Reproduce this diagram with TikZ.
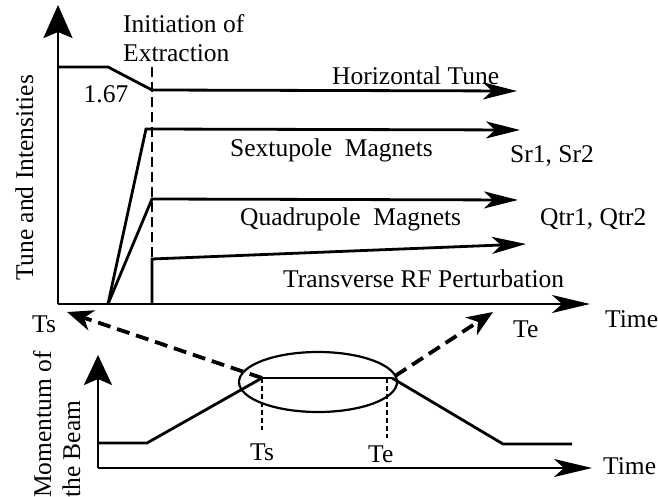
\documentclass[tikz,border=0pt]{standalone}
\usepackage{fontspec}
\setmainfont{Liberation Serif}
\usetikzlibrary{arrows.meta}

\begin{document}
\begin{tikzpicture}[x=1pt,y=-1pt,
    every node/.style={font=\fontsize{25.5}{29}\selectfont,inner sep=0pt},
    axis/.style={line width=2.4pt},
    trend/.style={line width=2.8pt,-{Stealth[length=34pt,width=17pt,inset=9pt]}},
    zoomarr/.style={line width=3.8pt,dash pattern=on 13pt off 7pt,-{Stealth[length=26pt,width=21pt,inset=8pt]}},
    guide/.style={line width=1.5pt,dash pattern=on 5pt off 3pt}]
    \useasboundingbox (0,0) rectangle (658,497);

    % upper chart
    \coordinate (o1) at (58,304);
    \coordinate (ext) at (152,67);
    \draw [axis,-{Stealth[length=33pt,width=29pt,inset=6pt]}] (o1)--(58,5);
    \draw [axis,-{Stealth[length=38pt,width=18pt,inset=10pt]}] (o1)--(590,304);
    \draw [line width=2pt,dash pattern=on 10pt off 5pt] (ext)--(152,304);
    \draw [trend] (58,67)--(108,67)--(152,90)--(517,91);
    \draw [trend] (108,304)--(146,129)--(520,130);
    \draw [trend] (108,304)--(152,199)--(518,200);
    \draw [trend] (152,304)--(152,259)--(526,244);
    \node [anchor=north west,align=left] (init) at (123,14) {Initiation of\\Extraction};
    \node [anchor=base] (tune0) at (106,103) {1.67};
    \node [anchor=base west] (htune) at (332,85) {Horizontal Tune};
    \node [anchor=base west] (sext) at (230,157) {Sextupole\ \ Magnets};
    \node [anchor=base west] (sr) at (510,163) {Sr1, Sr2};
    \node [anchor=base west] (quad) at (240,225) {Quadrupole\ \ Magnets};
    \node [anchor=base west] (qtr) at (540,225) {Qtr1, Qtr2};
    \node [anchor=base west] (rf) at (283,287) {Transverse RF Perturbation};
    \node [anchor=base west] (time1) at (605,327) {Time};
    \node [anchor=base west] (ts1) at (32,332) {Ts};
    \node [anchor=base west] (te1) at (513,337) {Te};
    \node [rotate=90,anchor=base] (ylab1) at (33,178) {Tune and Intensities};

    % lower chart
    \coordinate (o2) at (98,468);
    \coordinate (ts) at (262,378);
    \coordinate (te) at (392,378);
    \draw [axis,-{Stealth[length=30pt,width=28pt,inset=6pt]}] (o2)--(98,355);
    \draw [axis,-{Stealth[length=38pt,width=18pt,inset=10pt]}] (o2)--(592,468);
    \draw [line width=2.8pt] (98,443)--(147,443)--(ts);
    \draw [line width=1.5pt] (ts)--(te);
    \draw [line width=2.8pt] (te)--(503,444)--(572,444);
    \draw [guide] (ts)--(262,430);
    \draw [guide] (387,378)--(387,438);
    \draw [line width=2.2pt] (318,382) ellipse [x radius=79pt,y radius=30pt];
    \draw [zoomarr] (ts)--(67,312);
    \draw [zoomarr,shorten <=4pt] (te)--(493,312);
    \node [anchor=base west] (ts2) at (250,460) {Ts};
    \node [anchor=base west] (te2) at (368,462) {Te};
    \node [anchor=base west] (time2) at (603,474) {Time};
    \node [rotate=90,anchor=north west,align=left] (ylab2) at (33,498) {Momentum of\\the Beam};
\end{tikzpicture}
\end{document}
